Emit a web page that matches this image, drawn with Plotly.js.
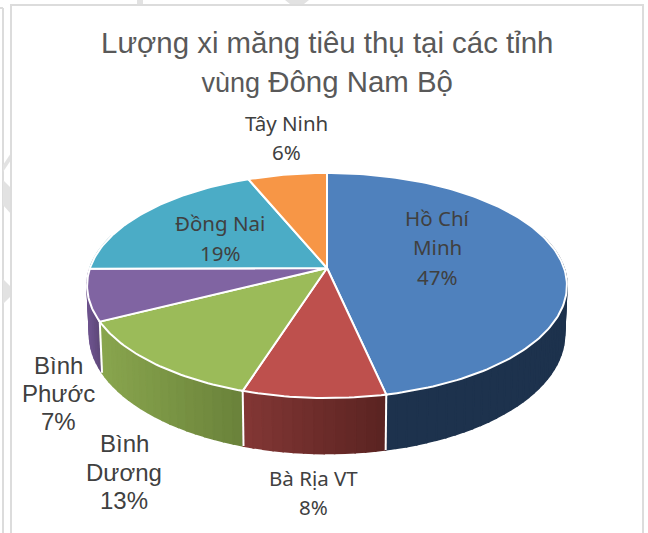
<!DOCTYPE html>
<html><head><meta charset="utf-8">
<script src="https://cdn.plot.ly/plotly-3.0.1.min.js"></script>
<style>html,body{margin:0;padding:0;background:#fff}#c{width:648px;height:533px}</style>
</head><body><div id="c"></div>
<script>
// data
const categories = ["Hồ Chí Minh","Bà Rịa VT","Bình Dương","Bình Phước","Đồng Nai","Tây Ninh"];
const values = [46.6,8.3,12.6,7.4,18.9,6.2];
const topColors = ["#4F81BD","#BE504D","#9BBB59","#8064A2","#4BACC6","#F79646"];
const wallLeft  = ["#20395A","#833735","#89A64E","#6C528C","#3A8296","#B86F33"];
const wallRight = ["#1D324D","#5A2321","#6A823A","#5E4879","#317082","#A86528"];
const labelLines = [["Hồ Chí","Minh","47%"],["Bà Rịa VT","8%"],["Bình","Dương","13%"],["Bình","Phước","7%"],["Đồng Nai","19%"],["Tây Ninh","6%"]];
const labelX = [437,313,124,58,220,286];
const labelY = [[218,247,277],[478,507],[443,472,500],[365,393,421],[223,253],[123,152]];
const labelFont = ["Noto Sans","Noto Sans","Liberation Sans","Liberation Sans","Noto Sans","Noto Sans"];
const labelSize = [20.5,20.5,24,24,20.5,20.5];

// projection of a tilted disc seen in perspective
const cx=327, cy=268, k=0.1556, A=237, B=109.8, D=48, S=0.99;
function rim(th,bottom){
  const w=1+k*Math.cos(th);
  const X=A*Math.sin(th)/w, Y=B*Math.cos(th)/w;
  return bottom ? [cx+X*S, cy-Y*S+D/w] : [cx+X, cy-Y];
}
const total=values.reduce((a,b)=>a+b,0);
const hex=c=>[1,3,5].map(i=>parseInt(c.substr(i,2),16));
const mix=(a,b,t)=>{const p=hex(a),q=hex(b);return "rgb("+p.map((v,i)=>Math.round(v+(q[i]-v)*t)).join(",")+")";};

const traces=[], strips=[], seams=[];
let acc=0;
values.forEach((v,i)=>{
  const t0=acc/total*2*Math.PI; acc+=v; const t1=acc/total*2*Math.PI;
  const n=Math.max(2,Math.ceil((t1-t0)/0.02));
  // wall strips
  const bands=Math.max(4,Math.ceil((t1-t0)/0.04));
  for(let b=0;b<bands;b++){
    const a0=t0+(t1-t0)*b/bands, a1=t0+(t1-t0)*(b+1)/bands, m=(a0+a1)/2;
    if(Math.cos(m)>0.3) continue;
    const p=[rim(a0),rim(a1),rim(a1,true),rim(a0,true),rim(a0)];
    // shading runs left to right across the strip's slice
    const xa=rim(t0)[0], xb=rim(t1)[0], xm=rim(m)[0];
    const tt=(xm-Math.min(xa,xb))/(Math.abs(xb-xa)||1);
    const col=mix(wallLeft[i],wallRight[i],Math.min(1,Math.max(0,tt)));
    strips.push({z:Math.cos(m),trace:{x:p.map(q=>q[0]),y:p.map(q=>q[1]),mode:"lines",fill:"toself",fillcolor:col,line:{color:col,width:1.6},hoverinfo:"skip",showlegend:false}});
  }
  // seam on the wall at the slice boundary
  if(Math.cos(t1)<-0.2){const a=rim(t1),b=rim(t1,true);seams.push({x:[a[0],b[0]],y:[a[1],b[1]],mode:"lines",line:{color:"#fff",width:2},hoverinfo:"skip",showlegend:false});}
  // top face
  const xs=[cx],ys=[cy];
  for(let j=0;j<=n;j++){const p=rim(t0+(t1-t0)*j/n);xs.push(p[0]);ys.push(p[1]);}
  xs.push(cx);ys.push(cy);
  traces.push({x:xs,y:ys,name:categories[i],mode:"lines",fill:"toself",fillcolor:topColors[i],line:{color:"#fff",width:2},hoverinfo:"skip",showlegend:false});
});
strips.sort((a,b)=>b.z-a.z);
const data=strips.map(s=>s.trace).concat(seams,traces);

const annotations=[];
labelLines.forEach((lines,i)=>lines.forEach((t,j)=>annotations.push({
  x:labelX[i],y:labelY[i][j],xref:"x",yref:"y",text:t,showarrow:false,xanchor:"center",yanchor:"middle",
  font:{family:labelFont[i],size:labelSize[i],color:"#404040"}
})));

const border="#DCDCDC";
const shapes=[
 {type:"line",x0:3,x1:3,y0:8,y1:533,line:{color:border,width:2},layer:"below"},
 {type:"line",x0:0,x1:3,y0:8,y1:8,line:{color:border,width:2},layer:"below"},
 {type:"path",path:"M3,165L11,153L11,160L3,172Z",fillcolor:"#E2E2E2",line:{width:0},layer:"below"},
 {type:"path",path:"M3,180L11,188L11,214L3,205Z",fillcolor:"#E2E2E2",line:{width:0},layer:"below"},
 {type:"path",path:"M3,279L11,287L11,296L3,304Z",fillcolor:"#E2E2E2",line:{width:0},layer:"below"},
 {type:"path",path:"M137,0L143,0L143,4L140,5L137,4Z",fillcolor:"#E2E2E2",line:{width:0},layer:"below"},
 {type:"path",path:"M285,0L309,0L304,4L290,4Z",fillcolor:"#E2E2E2",line:{width:0},layer:"below"},
 {type:"path",path:"M11,540L11,5L643,5L643,540",line:{color:border,width:2},layer:"below"}
];

Plotly.newPlot("c",data,{
  width:648,height:533,margin:{l:0,r:0,t:0,b:0},
  paper_bgcolor:"#fff",plot_bgcolor:"#fff",showlegend:false,
  title:{text:"Lượng xi măng tiêu thụ tại các tỉnh<br><span style=\"font-size:27px\">vùng</span> Đông Nam Bộ",x:0.505,xanchor:"center",y:0.9,yanchor:"top",
    font:{family:"Liberation Sans",size:29.4,color:"#595959"}},
  xaxis:{range:[0,648],visible:false,fixedrange:true},
  yaxis:{range:[533,0],visible:false,fixedrange:true},
  annotations,shapes
},{displayModeBar:false,staticPlot:true});
</script></body></html>
